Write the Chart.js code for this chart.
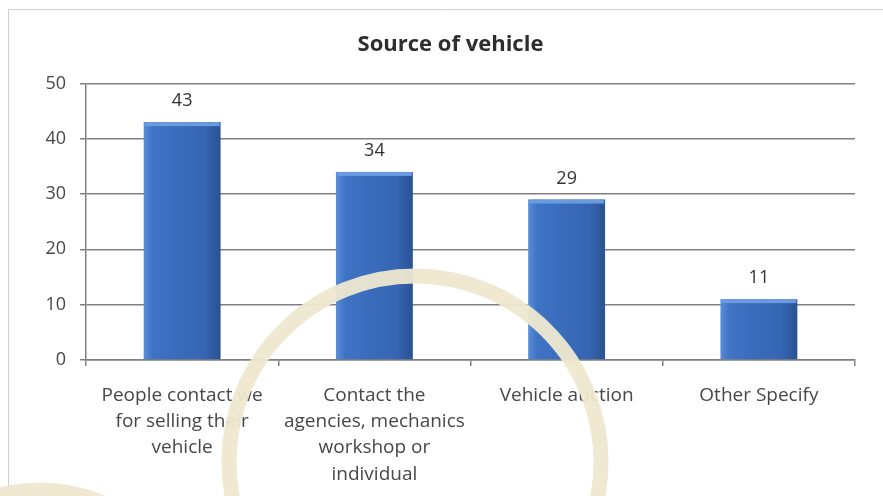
<!DOCTYPE html>
<html>
<head>
<meta charset="utf-8">
<script src="https://cdn.jsdelivr.net/npm/chart.js@4/dist/chart.umd.min.js"></script>
<style>
  html, body { margin: 0; padding: 0; background: #ffffff; }
  #wrap { width: 883px; height: 496px; }
</style>
</head>
<body>
<div id="wrap"><canvas id="grafico"></canvas></div>
<script>
// Datos del gráfico
const categorias = [
    ['People contact we', 'for selling their', 'vehicle'],
    ['Contact the', 'agencies, mechanics', 'workshop or', 'individual'],
    'Vehicle auction',
    'Other Specify'
];
const valores = [43, 34, 29, 11];
const ticksY = [0, 10, 20, 30, 40, 50];

const ANCHO_BARRA = 0.4;

// Marco gris del recuadro
const marcoPlugin = {
    id: 'marco',
    beforeDraw(chart) {
        const ctx = chart.ctx;
        ctx.save();
        ctx.strokeStyle = '#cfcfcf';
        ctx.lineWidth = 1;
        ctx.beginPath();
        ctx.moveTo(8.5, 496);
        ctx.lineTo(8.5, 9.5);
        ctx.lineTo(883, 9.5);
        ctx.stroke();
        ctx.restore();
    }
};

// Mueve el título un poco a la derecha, como en el original
const tituloPlugin = {
    id: 'tituloDesplazado',
    afterLayout(chart) {
        if (chart.titleBlock) {
            chart.titleBlock.left += 23;
            chart.titleBlock.right += 23;
        }
    }
};

// Degradado horizontal para cada barra
function colorBarra(context) {
    const chart = context.chart;
    const escalaX = chart.scales.x;
    if (!escalaX || context.dataIndex === undefined) return '#3a6cc0';
    const centro = escalaX.getPixelForValue(context.dataIndex);
    const ancho = (escalaX.width / categorias.length) * ANCHO_BARRA;
    if (!isFinite(centro) || !isFinite(ancho) || ancho <= 0) return '#3a6cc0';
    const g = chart.ctx.createLinearGradient(centro - ancho / 2, 0, centro + ancho / 2, 0);
    g.addColorStop(0, '#5b8ed6');
    g.addColorStop(0.12, '#3f73c4');
    g.addColorStop(0.8, '#3565b3');
    g.addColorStop(1, '#2a528f');
    return g;
}

// Tapa superior y etiquetas de valor
const barrasPlugin = {
    id: 'barras',
    afterDatasetsDraw(chart) {
        const ctx = chart.ctx;
        const meta = chart.getDatasetMeta(0);
        ctx.save();
        meta.data.forEach((bar, i) => {
            const izq = bar.x - bar.width / 2;
            ctx.fillStyle = '#6a9be0';
            ctx.fillRect(izq + 1, bar.y, bar.width - 2, 4);
            ctx.fillStyle = '#333333';
            ctx.font = '18px "Open Sans", sans-serif';
            ctx.textAlign = 'center';
            ctx.textBaseline = 'middle';
            ctx.fillText(String(valores[i]), bar.x, bar.y - 21);
        });
        ctx.restore();
    }
};

// Círculos decorativos de fondo (marca de agua)
const circulosPlugin = {
    id: 'circulos',
    afterDraw(chart) {
        const ctx = chart.ctx;
        ctx.save();
        ctx.strokeStyle = 'rgba(238, 232, 208, 0.95)';
        ctx.lineWidth = 15;
        ctx.beginPath();
        ctx.arc(415, 462, 186, 0, Math.PI * 2);
        ctx.stroke();
        ctx.beginPath();
        ctx.arc(40, 650, 160, 0, Math.PI * 2);
        ctx.stroke();
        ctx.restore();
    }
};

const ctx = document.getElementById('grafico').getContext('2d');

new Chart(ctx, {
    type: 'bar',
    data: {
        labels: categorias,
        datasets: [
            {
                label: 'Source of vehicle',
                data: valores,
                backgroundColor: colorBarra,
                borderWidth: 0,
                barPercentage: ANCHO_BARRA,
                categoryPercentage: 1
            }
        ]
    },
    options: {
        responsive: true,
        maintainAspectRatio: false,
        animation: false,
        layout: { padding: { top: 9, right: 28, bottom: 0, left: 0 } },
        plugins: {
            legend: { display: false },
            tooltip: { enabled: false },
            title: {
                display: true,
                text: 'Source of vehicle',
                color: '#2e2e2e',
                font: { family: '"Open Sans", sans-serif', size: 22, weight: 'bold' },
                padding: { top: 23, bottom: 25 }
            }
        },
        scales: {
            x: {
                grid: { drawOnChartArea: false, drawTicks: true, tickLength: 6, color: '#808080', lineWidth: 1.5 },
                border: { color: '#808080', width: 1.5 },
                ticks: {
                    color: '#474747',
                    font: { family: '"Open Sans", sans-serif', size: 19, lineHeight: 1.37 },
                    padding: 17,
                    maxRotation: 0,
                    autoSkip: false
                },
                afterFit(scale) { scale.height = 136; }
            },
            y: {
                min: 0,
                max: 50,
                afterBuildTicks(scale) { scale.ticks = ticksY.map(v => ({ value: v })); },
                grid: { color: '#808080', lineWidth: 1.5, tickLength: 6 },
                border: { color: '#808080', width: 1.5 },
                ticks: {
                    color: '#474747',
                    font: { family: '"Open Sans", sans-serif', size: 18 },
                    padding: 14
                },
                afterFit(scale) { scale.width = 86; }
            }
        }
    },
    plugins: [marcoPlugin, tituloPlugin, barrasPlugin, circulosPlugin]
});
</script>
</body>
</html>
